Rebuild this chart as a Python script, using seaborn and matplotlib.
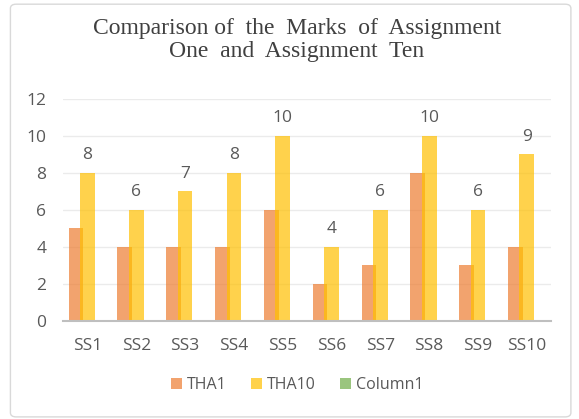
import numpy as np
import pandas as pd
import matplotlib
matplotlib.use('Agg')
import matplotlib.pyplot as plt
from matplotlib.patches import FancyBboxPatch
import seaborn as sns

# Chart data
students = ['SS1', 'SS2', 'SS3', 'SS4', 'SS5', 'SS6', 'SS7', 'SS8', 'SS9', 'SS10']
tha1 = [5, 4, 4, 4, 6, 2, 3, 8, 3, 4]
tha10 = [8, 6, 7, 8, 10, 4, 6, 10, 6, 9]
column1 = [0, 0, 0, 0, 0, 0, 0, 0, 0, 0]
series_names = ['THA1', 'THA10', 'Column1']

df = pd.DataFrame({'Student': students * 3,
                   'Mark': tha1 + tha10 + column1,
                   'Series': np.repeat(series_names, len(students))})

sns.set_theme(style='white')
plt.rcParams['font.family'] = ['Open Sans', 'DejaVu Sans']

fig = plt.figure(figsize=(5.79, 4.19), dpi=100)
ax = fig.add_axes([0.109, 0.234, 0.843, 0.530])

colors = ['#ED7D31', '#FFC000', '#70AD47']
sns.barplot(data=df, x='Student', y='Mark', hue='Series', hue_order=series_names,
            order=students, palette=colors, alpha=0.7, width=0.708,
            saturation=1, ax=ax, legend=True)

# widen bars a little so neighbours overlap like the Excel chart
for p in ax.patches:
    cx = p.get_x() + p.get_width() / 2
    p.set_width(0.30)
    p.set_x(cx - 0.15)
    p.set_linewidth(0)

# labels on THA10 bars
ax.bar_label(ax.containers[1], fontsize=12.5, color='#595959', padding=7)

ax.set_ylim(0, 12)
ax.set_yticks(range(0, 13, 2))
ax.set_xlim(-0.5, len(students) - 0.5)
ax.grid(axis='y', color='#EBEBEB', linewidth=1)
ax.set_axisbelow(True)
for s in ['top', 'right', 'left']:
    ax.spines[s].set_visible(False)
ax.spines['bottom'].set_color('#BFBFBF')
ax.spines['bottom'].set_linewidth(1.5)
ax.tick_params(axis='y', length=0, pad=12, labelsize=12.5, labelcolor='#595959')
ax.tick_params(axis='x', length=0, pad=12, labelsize=12.5, labelcolor='#595959')
ax.set_xlabel('')
ax.set_ylabel('')

handles, labels = ax.get_legend_handles_labels()
ax.get_legend().remove()
fig.legend(handles, labels, loc='center', bbox_to_anchor=(0.513, 0.081), ncol=3,
           frameon=False, fontsize=11.5, labelcolor='#595959', handlelength=0.7,
           handleheight=0.7, handletextpad=0.3, columnspacing=1.5)

fig.text(0.513, 0.905, 'Comparison of  the  Marks  of  Assignment\nOne  and  Assignment  Ten',
         ha='center', va='center', fontsize=17, color='#404040',
         family='Liberation Serif', linespacing=1.1)

border = FancyBboxPatch((0.018, 0.005), 0.968, 0.985, boxstyle='round,pad=0,rounding_size=0.01',
                        transform=fig.transFigure, facecolor='none', edgecolor='#D9D9D9',
                        linewidth=1)
fig.patches.append(border)

fig.savefig('out.png', dpi=100)
